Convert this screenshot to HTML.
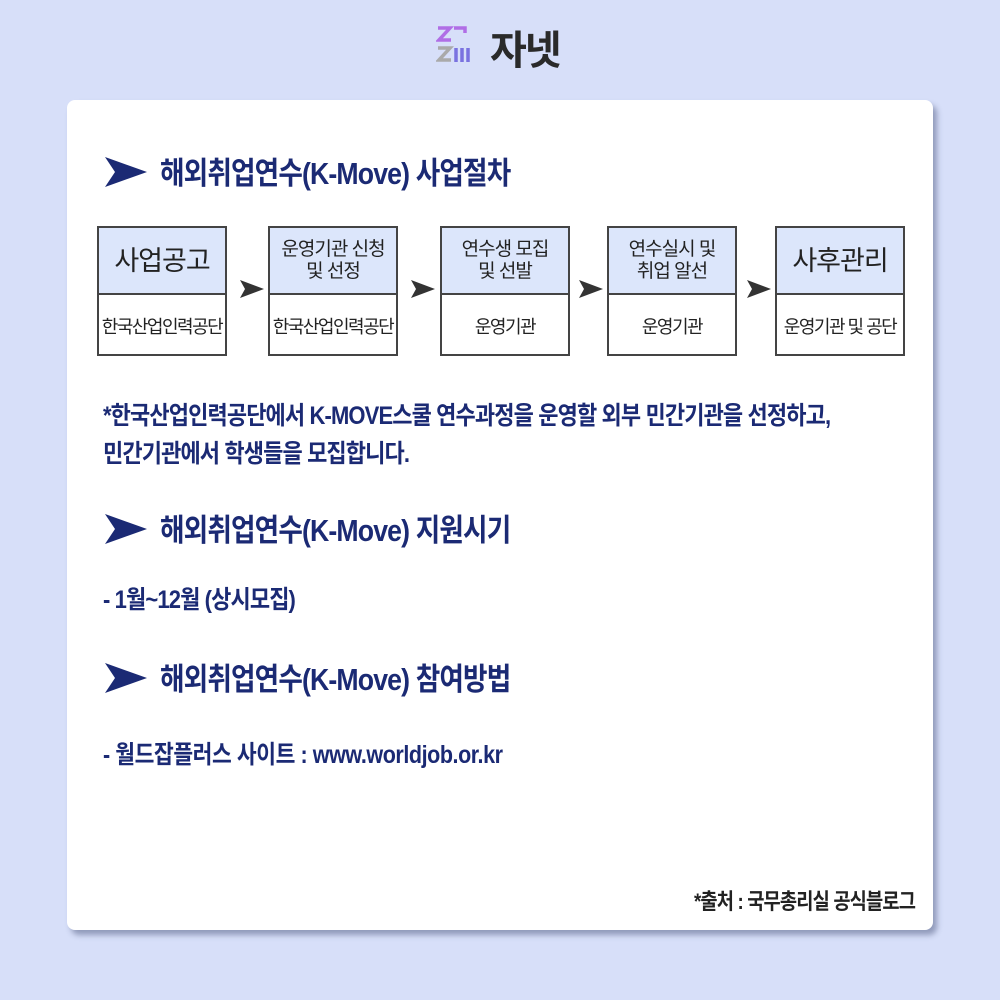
<!DOCTYPE html>
<html><head><meta charset="utf-8"><style>
body{margin:0;width:1000px;height:1000px;background:#d7dff9;position:relative;overflow:hidden;font-family:"Liberation Sans","Noto Sans CJK KR",sans-serif;color:#1b2a74}
.card{position:absolute;left:67px;top:100px;width:866px;height:830px;background:#fff;border-radius:8px;box-shadow:4px 5px 6px rgba(60,70,110,.45)}
.t{position:absolute;white-space:nowrap;transform-origin:0 0;font-weight:700}
.h{font-size:31px;transform:scaleX(.86);letter-spacing:-1px}
.tri{position:absolute}
.box{position:absolute;top:226px;width:130px;height:130px;border:2px solid #444;box-sizing:border-box;background:#fff}
.box .top{height:65px;background:#dce6fb;border-bottom:2px solid #444;display:flex;align-items:center;justify-content:center;text-align:center;font-size:19px;line-height:22px;color:#222;letter-spacing:-1px}
.box .top.big{font-size:27px}
.box .bot{height:61px;display:flex;align-items:center;justify-content:center;font-size:18px;color:#222;letter-spacing:-1.5px}
.arr{position:absolute;top:280px}
.b{font-size:25px;transform:scaleX(.88);letter-spacing:-1px}
</style></head><body>
<svg style="position:absolute;left:436px;top:24px" width="44" height="44">
<path d="M2 4h12l-11 12h12" stroke="#b06ee6" stroke-width="3.5" fill="none"/>
<path d="M18 4h11v5" stroke="#b06ee6" stroke-width="3.5" fill="none"/>
<path d="M2 24h12l-11 12h12" stroke="#aaa" stroke-width="3.5" fill="none"/>
<path d="M20 24v14M26 24v14M32 24v14" stroke="#7a72e0" stroke-width="3.5"/>
</svg>
<div class="t" style="left:490px;top:18px;font-size:40px;color:#2a2a2a;letter-spacing:-2px">자넷</div>
<div class="card"></div>

<svg class="tri" style="left:105px;top:157px" width="42" height="30"><path d="M0 0L42 15L0 30L10 15Z" fill="#1b2a74"/></svg>
<div class="t h" style="left:160px;top:148px">해외취업연수(K-Move) 사업절차</div>

<div class="box" style="left:97px"><div class="top big">사업공고</div><div class="bot">한국산업인력공단</div></div>
<svg class="arr" style="left:240px" width="24" height="18"><path d="M0 0L24 9L0 18L5 9Z" fill="#333"/></svg>
<div class="box" style="left:268px"><div class="top">운영기관 신청<br>및 선정</div><div class="bot">한국산업인력공단</div></div>
<svg class="arr" style="left:411px" width="24" height="18"><path d="M0 0L24 9L0 18L5 9Z" fill="#333"/></svg>
<div class="box" style="left:440px"><div class="top">연수생 모집<br>및 선발</div><div class="bot">운영기관</div></div>
<svg class="arr" style="left:579px" width="24" height="18"><path d="M0 0L24 9L0 18L5 9Z" fill="#333"/></svg>
<div class="box" style="left:607px"><div class="top">연수실시 및<br>취업 알선</div><div class="bot">운영기관</div></div>
<svg class="arr" style="left:747px" width="24" height="18"><path d="M0 0L24 9L0 18L5 9Z" fill="#333"/></svg>
<div class="box" style="left:775px"><div class="top big">사후관리</div><div class="bot">운영기관 및 공단</div></div>

<div class="t b" style="left:103px;top:396px">*한국산업인력공단에서 K-MOVE스쿨 연수과정을 운영할 외부 민간기관을 선정하고,</div>
<div class="t b" style="left:103px;top:434px">민간기관에서 학생들을 모집합니다.</div>

<svg class="tri" style="left:105px;top:514px" width="42" height="30"><path d="M0 0L42 15L0 30L10 15Z" fill="#1b2a74"/></svg>
<div class="t h" style="left:160px;top:505px">해외취업연수(K-Move) 지원시기</div>
<div class="t b" style="left:103px;top:580px">- 1월~12월 (상시모집)</div>

<svg class="tri" style="left:105px;top:663px" width="42" height="30"><path d="M0 0L42 15L0 30L10 15Z" fill="#1b2a74"/></svg>
<div class="t h" style="left:160px;top:654px">해외취업연수(K-Move) 참여방법</div>
<div class="t b" style="left:103px;top:735px;transform:scaleX(.86);letter-spacing:-.5px">- 월드잡플러스 사이트 : www.worldjob.or.kr</div>

<div class="t" style="left:694px;top:884px;font-size:22px;transform:scaleX(.85);color:#222;letter-spacing:-1px">*출처 : 국무총리실 공식블로그</div>
</body></html>
